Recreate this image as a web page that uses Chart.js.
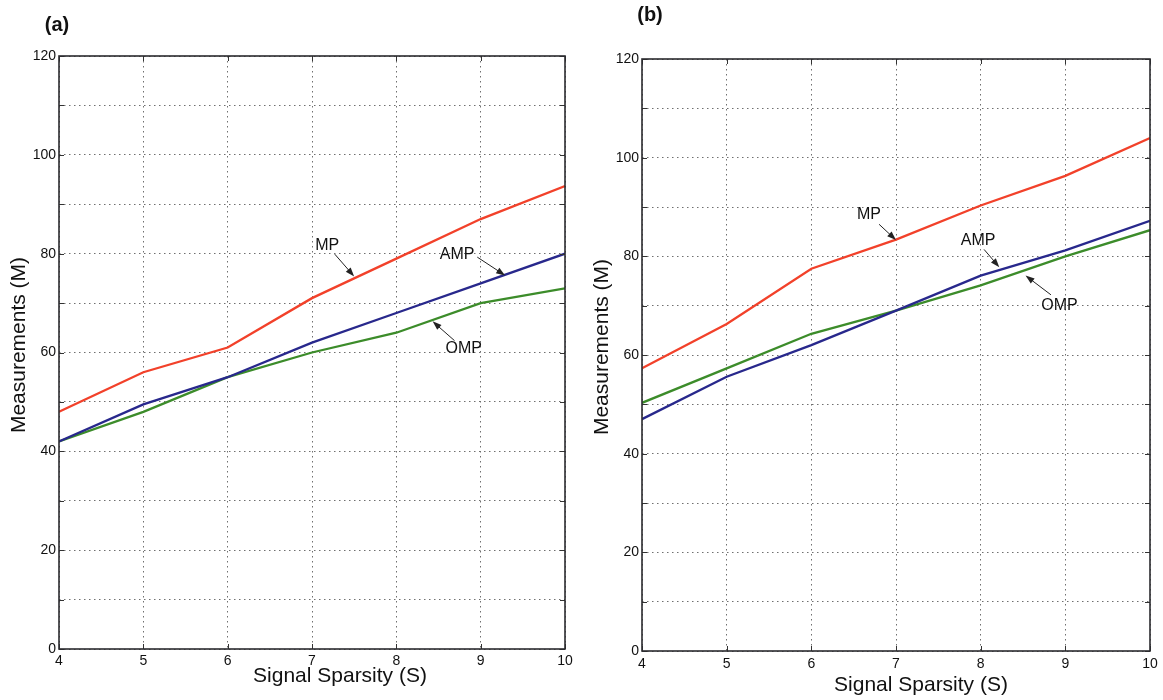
<!DOCTYPE html>
<html>
<head>
<meta charset="utf-8">
<script src="https://cdn.jsdelivr.net/npm/chart.js@4.4.1/dist/chart.umd.min.js"></script>
<style>
  html, body { margin: 0; padding: 0; background: #fff; }
  #page { position: relative; width: 1163px; height: 700px; overflow: hidden; }
  .panel { position: absolute; top: 0; height: 700px; }
  #panelA { left: 0; width: 590px; }
  #panelB { left: 590px; width: 573px; }
</style>
</head>
<body>
<div id="page">
  <div class="panel" id="panelA"><canvas id="chartA"></canvas></div>
  <div class="panel" id="panelB"><canvas id="chartB"></canvas></div>
</div>
<script>
// measurements needed vs. signal sparsity
const sparsity = [4, 5, 6, 7, 8, 9, 10];

// panel (a)
const mpA  = [48, 56, 61, 71, 79, 87, 93.7];
const ampA = [42, 49.5, 55, 62, 68, 74, 80];
const ompA = [42, 48, 55, 60, 64, 70, 73];

// panel (b)
const mpB  = [57.3, 66.3, 77.5, 83.4, 90.3, 96.3, 104];
const ampB = [47, 55.6, 62, 69, 76.1, 81.2, 87.2];
const ompB = [50.3, 57.3, 64.3, 69, 74.1, 80, 85.3];

const yLabelValues = [0, 20, 40, 60, 80, 100, 120];
const seriesNames  = ["MP", "AMP", "OMP"];
const seriesColors = ["#f2412a", "#28288c", "#3c8c2a"];

const FONT = '"Liberation Sans", Arial, Helvetica, sans-serif';
Chart.defaults.font.family = FONT;

// labels with arrows, in data units
const notesA = [
  { text: "MP",  tx: 7.18, ty: 81.7, from: [7.27, 79.9], to: [7.5, 75.4] },
  { text: "AMP", tx: 8.72, ty: 79.9, from: [8.96, 79.3], to: [9.29, 75.6] },
  { text: "OMP", tx: 8.8,  ty: 60.7, from: [8.69, 62.4], to: [8.43, 66.3] }
];
const notesB = [
  { text: "MP",  tx: 6.68, ty: 88.4, from: [6.8, 86.5],  to: [7.0, 83.3] },
  { text: "AMP", tx: 7.97, ty: 83.1, from: [8.04, 81.4], to: [8.22, 77.8] },
  { text: "OMP", tx: 8.93, ty: 70,   from: [8.83, 72.2], to: [8.53, 76.1] }
];

function points(values) {
  return sparsity.map((s, i) => ({ x: s, y: values[i] }));
}

function drawArrow(ctx, x1, y1, x2, y2) {
  const ang = Math.atan2(y2 - y1, x2 - x1);
  ctx.beginPath();
  ctx.moveTo(x1, y1);
  ctx.lineTo(x2 - 6 * Math.cos(ang), y2 - 6 * Math.sin(ang));
  ctx.stroke();
  ctx.beginPath();
  ctx.moveTo(x2, y2);
  ctx.lineTo(x2 - 9 * Math.cos(ang) + 3.2 * Math.sin(ang), y2 - 9 * Math.sin(ang) - 3.2 * Math.cos(ang));
  ctx.lineTo(x2 - 9 * Math.cos(ang) - 3.2 * Math.sin(ang), y2 - 9 * Math.sin(ang) + 3.2 * Math.cos(ang));
  ctx.closePath();
  ctx.fill();
}

// frame, inner ticks, axis titles, panel letter and line labels
const figureDecor = {
  id: "figureDecor",
  afterDraw(chart, args, opts) {
    const { ctx, chartArea: a } = chart;
    const x = chart.scales.x, y = chart.scales.y;
    ctx.save();

    ctx.strokeStyle = "#333";
    ctx.lineWidth = 1;
    ctx.beginPath();
    x.ticks.forEach(t => {
      const px = Math.round(x.getPixelForValue(t.value)) + 0.5;
      ctx.moveTo(px, a.bottom); ctx.lineTo(px, a.bottom - 5);
      ctx.moveTo(px, a.top);    ctx.lineTo(px, a.top + 5);
    });
    y.ticks.forEach(t => {
      const py = Math.round(y.getPixelForValue(t.value)) + 0.5;
      ctx.moveTo(a.left, py);  ctx.lineTo(a.left + 5, py);
      ctx.moveTo(a.right, py); ctx.lineTo(a.right - 5, py);
    });
    ctx.stroke();

    ctx.lineWidth = 1.6;
    ctx.strokeStyle = "#2b2b2f";
    ctx.strokeRect(a.left, a.top, a.right - a.left, a.bottom - a.top);

    ctx.fillStyle = "#111";
    ctx.textAlign = "center";
    ctx.textBaseline = "middle";
    ctx.font = "bold 20px " + FONT;
    ctx.fillText(opts.letter, opts.letterX, opts.letterY);

    ctx.font = "21px " + FONT;
    ctx.textBaseline = "alphabetic";
    ctx.fillText("Signal Sparsity (S)", opts.xTitleX, opts.xTitleY);
    ctx.save();
    ctx.translate(opts.yTitleX, opts.yTitleY);
    ctx.rotate(-Math.PI / 2);
    ctx.fillText("Measurements (M)", 0, 0);
    ctx.restore();

    ctx.font = "16px " + FONT;
    ctx.textBaseline = "middle";
    ctx.strokeStyle = "#222";
    ctx.lineWidth = 1;
    opts.notes.forEach(n => {
      ctx.fillStyle = "#111";
      ctx.fillText(n.text, x.getPixelForValue(n.tx), y.getPixelForValue(n.ty));
      ctx.fillStyle = "#222";
      drawArrow(ctx,
        x.getPixelForValue(n.from[0]), y.getPixelForValue(n.from[1]),
        x.getPixelForValue(n.to[0]),   y.getPixelForValue(n.to[1]));
    });

    ctx.restore();
  }
};

function makePanel(canvasId, series, cfg) {
  const datasets = series.map((vals, i) => ({
    label: seriesNames[i],
    data: points(vals),
    borderColor: seriesColors[i],
    borderWidth: 2.3,
    pointRadius: 0,
    tension: 0,
    fill: false
  }));

  return new Chart(document.getElementById(canvasId), {
    type: "line",
    data: { datasets },
    options: {
      responsive: true,
      maintainAspectRatio: false,
      animation: false,
      layout: { padding: { top: cfg.padTop, right: cfg.padRight, left: 0, bottom: 0 } },
      plugins: {
        legend: { display: false },
        tooltip: { enabled: false },
        figureDecor: cfg.decor
      },
      scales: {
        x: {
          type: "linear",
          min: 4, max: 10,
          ticks: {
            stepSize: 1, autoSkip: false, maxRotation: 0,
            padding: cfg.xTickPad, color: "#111",
            font: { size: 14 }
          },
          grid: { color: "#6f6f6f", lineWidth: 1, drawTicks: false },
          border: { display: false, dash: [1.5, 3.5] },
          afterFit(s) { s.height = cfg.xHeight; }
        },
        y: {
          min: 0, max: 120,
          ticks: {
            stepSize: 10, autoSkip: false, padding: 3, color: "#111",
            font: { size: 14 },
            callback: v => (yLabelValues.includes(v) ? String(v) : "")
          },
          grid: { color: "#6f6f6f", lineWidth: 1, drawTicks: false },
          border: { display: false, dash: [1.5, 3.5] },
          afterFit(s) { s.width = cfg.yWidth; }
        }
      }
    },
    plugins: [figureDecor]
  });
}

makePanel("chartA", [mpA, ampA, ompA], {
  padTop: 56, padRight: 25, yWidth: 59, xHeight: 51, xTickPad: 4,
  decor: { letter: "(a)", letterX: 57, letterY: 25, xTitleX: 340, xTitleY: 682,
           yTitleX: 25, yTitleY: 345, notes: notesA }
});

makePanel("chartB", [mpB, ampB, ompB], {
  padTop: 59, padRight: 13, yWidth: 52, xHeight: 49, xTickPad: 5,
  decor: { letter: "(b)", letterX: 60, letterY: 15, xTitleX: 331, xTitleY: 691,
           yTitleX: 18, yTitleY: 347, notes: notesB }
});
</script>
</body>
</html>
